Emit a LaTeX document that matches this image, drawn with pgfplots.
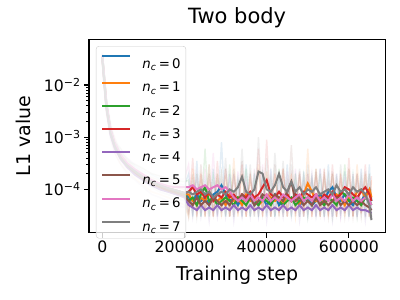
\documentclass[border=0pt]{standalone}
\usepackage{fontspec}
\setmainfont{DejaVu Sans}
\usepackage{pgfplots}
\usepackage{pgfplotstable}
\pgfplotsset{compat=1.18}
\definecolor{c0}{HTML}{1F77B4}
\definecolor{c1}{HTML}{FF7F0E}
\definecolor{c2}{HTML}{2CA02C}
\definecolor{c3}{HTML}{D62728}
\definecolor{c4}{HTML}{9467BD}
\definecolor{c5}{HTML}{8C564B}
\definecolor{c6}{HTML}{E377C2}
\definecolor{c7}{HTML}{7F7F7F}

\pgfplotstableread{
x s0 s1 s2 s3 s4 s5 s6 s7 r0 r1 r2 r3 r4 r5 r6 r7
0 3.5e-2 3.3e-2 3.6e-2 3.4e-2 3.2e-2 3.5e-2 3.7e-2 3.3e-2 4.0e-2 3.2e-2 3.8e-2 3.5e-2 3.0e-2 3.9e-2 4.2e-2 3.4e-2
5000 1.2e-2 1.1e-2 1.3e-2 1.2e-2 1.0e-2 1.2e-2 1.3e-2 1.1e-2 1.5e-2 9e-3 1.4e-2 1.3e-2 8e-3 1.1e-2 1.6e-2 1.0e-2
10000 4.0e-3 3.6e-3 4.3e-3 4.1e-3 3.5e-3 4.0e-3 4.4e-3 3.8e-3 5e-3 3e-3 4.5e-3 5e-3 2.8e-3 4.5e-3 5.5e-3 3.5e-3
20000 1.3e-3 1.2e-3 1.4e-3 1.3e-3 1.1e-3 1.3e-3 1.4e-3 1.2e-3 1.8e-3 1.0e-3 1.6e-3 1.5e-3 9e-4 1.4e-3 1.9e-3 1.1e-3
30000 7.0e-4 6.5e-4 7.4e-4 7.1e-4 6.2e-4 7.0e-4 7.6e-4 6.8e-4 9e-4 5e-4 8e-4 1.0e-3 5e-4 8e-4 9e-4 6e-4
45000 4.2e-4 3.9e-4 4.4e-4 4.3e-4 3.8e-4 4.1e-4 4.6e-4 4.0e-4 5e-4 3e-4 6e-4 4.5e-4 3e-4 5e-4 6e-4 3.5e-4
60000 3.0e-4 2.8e-4 3.1e-4 3.0e-4 2.7e-4 2.9e-4 3.2e-4 2.9e-4 4e-4 2.2e-4 3.5e-4 3.5e-4 2e-4 3.8e-4 4e-4 2.5e-4
80000 2.2e-4 2.0e-4 2.3e-4 2.2e-4 1.9e-4 2.1e-4 2.4e-4 2.2e-4 2.8e-4 1.6e-4 3e-4 2.4e-4 1.5e-4 2.6e-4 3e-4 1.8e-4
100000 1.7e-4 1.6e-4 1.8e-4 1.7e-4 1.5e-4 1.6e-4 1.9e-4 1.7e-4 2.2e-4 1.2e-4 2.5e-4 1.9e-4 1.1e-4 2e-4 2.4e-4 1.4e-4
120000 1.4e-4 1.3e-4 1.4e-4 1.4e-4 1.2e-4 1.3e-4 1.5e-4 1.4e-4 1.9e-4 9e-5 2e-4 1.6e-4 8e-5 1.7e-4 2e-4 1.1e-4
140000 1.2e-4 1.1e-4 1.2e-4 1.2e-4 1.0e-4 1.1e-4 1.3e-4 1.2e-4 1.6e-4 8e-5 1.8e-4 1.3e-4 7e-5 1.5e-4 1.8e-4 9e-5
160000 1.05e-4 1.0e-4 1.0e-4 1.05e-4 9.0e-5 9.5e-5 1.15e-4 1.05e-4 1.4e-4 7e-5 1.6e-4 1.2e-4 6e-5 1.3e-4 1.6e-4 8e-5
180000 9.5e-5 9.0e-5 9.0e-5 9.5e-5 8.0e-5 8.5e-5 1.1e-4 9.5e-5 1.3e-4 6e-5 1.5e-4 1.1e-4 5e-5 1.2e-4 1.5e-4 7e-5
200000 8.5e-5 8.0e-5 8.0e-5 8.5e-5 7.0e-5 7.5e-5 1.1e-4 8.5e-5 1.2e-4 5e-5 1.4e-4 1.0e-4 4.5e-5 1.1e-4 1.6e-4 6e-5
210000 7e-5 8e-5 6e-5 9e-5 5e-5 6e-5 11e-5 9e-5 2e-4 3e-5 1.5e-4 4e-5 1.2e-4 3e-5 3e-4 3.5e-5
220000 6e-5 6e-5 7e-5 11e-5 4.5e-5 5e-5 12e-5 8e-5 3e-5 2.5e-4 3.5e-5 4e-4 3e-5 1.5e-4 4e-5 2e-4
230000 8e-5 5e-5 5e-5 8e-5 4e-5 7e-5 10e-5 9e-5 3.5e-4 3.5e-5 2e-4 3e-5 1.5e-4 4e-5 2e-4 3e-5
240000 6e-5 7e-5 8e-5 9e-5 5e-5 5e-5 11e-5 10e-5 3e-5 1.8e-4 3e-5 2e-4 3e-5 3e-4 3.5e-5 1.5e-4
250000 7e-5 6e-5 11e-5 7e-5 4e-5 6e-5 12e-5 8e-5 1.5e-4 3e-5 6e-4 3.5e-5 1e-4 3e-5 2.5e-4 4e-5
260000 5e-5 8e-5 6e-5 9e-5 4.5e-5 5e-5 10e-5 9e-5 4e-5 3e-4 3e-5 1.5e-4 2.5e-5 2e-4 4e-5 3e-4
270000 8e-5 7e-5 7e-5 6e-5 4e-5 7e-5 11e-5 7e-5 2.5e-4 3e-5 1.8e-4 3e-5 1.3e-4 3.5e-5 5e-4 3e-5
280000 9e-5 6e-5 5e-5 8e-5 5e-5 6e-5 12e-5 8e-5 3e-5 2e-4 4e-5 3.5e-4 3e-5 1.6e-4 3e-5 2e-4
290000 12e-5 7e-5 6e-5 7e-5 4e-5 5e-5 10e-5 9e-5 8e-4 3.5e-5 2e-4 4e-5 1.2e-4 3e-5 2e-4 3.5e-5
300000 8e-5 5e-5 7e-5 9e-5 4.5e-5 6e-5 11e-5 8e-5 3e-5 1.5e-4 3e-5 2.5e-4 3e-5 2.5e-4 4e-5 4e-4
310000 6e-5 8e-5 6e-5 7e-5 4e-5 5e-5 9e-5 10e-5 2e-4 3e-5 3e-4 3e-5 1.4e-4 3e-5 1.8e-4 3e-5
320000 7e-5 6e-5 5e-5 8e-5 5e-5 7e-5 7e-5 9e-5 3.5e-5 4e-4 3e-5 2e-4 2.5e-5 1.8e-4 3e-5 2.5e-4
330000 5e-5 7e-5 7e-5 6e-5 4e-5 6e-5 6e-5 11e-5 1.6e-4 3e-5 1.5e-4 3.5e-5 1e-4 4e-5 2.2e-4 3.5e-5
340000 7e-5 5e-5 6e-5 8e-5 4.5e-5 8e-5 7e-5 17.5e-5 3e-5 2e-4 3.5e-5 3e-4 3e-5 3.5e-4 3.5e-5 6e-4
350000 6e-5 8e-5 5e-5 7e-5 4e-5 6e-5 6e-5 9e-5 3e-4 3e-5 2.5e-4 3e-5 1.3e-4 3e-5 1.6e-4 4e-5
360000 8e-5 6e-5 7e-5 9e-5 5e-5 7e-5 8e-5 8e-5 3e-5 1.7e-4 3e-5 1.8e-4 3e-5 2e-4 4e-5 3e-4
370000 5e-5 7e-5 6e-5 7e-5 4e-5 5e-5 6e-5 10e-5 2e-4 3.5e-5 1.8e-4 4e-5 1.1e-4 3e-5 2.5e-4 3e-5
380000 6e-5 5e-5 5e-5 8e-5 4.5e-5 6e-5 7e-5 22e-5 3.5e-5 3e-4 3e-5 6e-4 3e-5 2.5e-4 3e-5 1e-3
390000 7e-5 6e-5 7e-5 11e-5 4e-5 8e-5 6e-5 20e-5 1.8e-4 3e-5 2e-4 3e-5 1.5e-4 3.5e-5 3e-4 3.5e-5
400000 5e-5 8e-5 6e-5 15e-5 5e-5 7e-5 8e-5 10e-5 3e-5 2.2e-4 4e-5 9e-4 2.5e-5 1.8e-4 3.5e-5 4e-4
410000 6e-5 7e-5 5e-5 8e-5 4e-5 6e-5 6e-5 9e-5 2.5e-4 3e-5 1.6e-4 3e-5 1.2e-4 3e-5 2e-4 3e-5
420000 8e-5 6e-5 7e-5 7e-5 4.5e-5 8e-5 7e-5 12e-5 3e-5 1.8e-4 3e-5 2e-4 3e-5 3e-4 4e-5 5e-4
430000 5e-5 7e-5 6e-5 9e-5 4e-5 7e-5 6e-5 20e-5 2e-4 3.5e-5 2.5e-4 3.5e-5 1e-4 3e-5 1.8e-4 4e-5
440000 6e-5 5e-5 5e-5 7e-5 5e-5 6e-5 8e-5 11e-5 3.5e-5 2.5e-4 3e-5 2.5e-4 3e-5 2e-4 3e-5 3.5e-4
450000 7e-5 8e-5 6e-5 8e-5 4e-5 9e-5 7e-5 9e-5 3e-4 3e-5 1.5e-4 3e-5 1.3e-4 4e-5 2.2e-4 3e-5
460000 6e-5 6e-5 7e-5 6e-5 4.5e-5 14e-5 6e-5 14e-5 3e-5 2e-4 3.5e-5 1.8e-4 3e-5 7e-4 3.5e-5 3e-4
470000 8e-5 7e-5 5e-5 8e-5 4e-5 6e-5 7e-5 9e-5 1.7e-4 3e-5 2e-4 4e-5 1.1e-4 3e-5 2.5e-4 3.5e-5
480000 5e-5 5e-5 6e-5 7e-5 5e-5 7e-5 8e-5 11e-5 3e-5 1.6e-4 3e-5 2.2e-4 2.5e-5 2e-4 3e-5 2.5e-4
490000 6e-5 8e-5 7e-5 9e-5 4e-5 5e-5 6e-5 8e-5 2.2e-4 3.5e-5 1.8e-4 3e-5 1.2e-4 3e-5 1.7e-4 3e-5
500000 7e-5 13e-5 6e-5 8e-5 4.5e-5 6e-5 7e-5 10e-5 3.5e-5 6e-4 3e-5 2e-4 3e-5 1.8e-4 4e-5 3e-4
510000 5e-5 9e-5 5e-5 7e-5 4e-5 5e-5 6e-5 9e-5 1.8e-4 3e-5 1.6e-4 3e-5 1.4e-4 3.5e-5 2e-4 3.5e-5
520000 6e-5 6e-5 7e-5 8e-5 5e-5 7e-5 8e-5 11e-5 3e-5 2.5e-4 3.5e-5 1.8e-4 3e-5 2.2e-4 3e-5 2.5e-4
530000 8e-5 7e-5 6e-5 6e-5 4e-5 5e-5 6e-5 8e-5 2.5e-4 3e-5 2e-4 3.5e-5 1e-4 3e-5 2.5e-4 3e-5
540000 6e-5 5e-5 5e-5 8e-5 4.5e-5 6e-5 7e-5 9e-5 3e-5 1.8e-4 3e-5 2.5e-4 3e-5 1.6e-4 3.5e-5 2e-4
550000 9e-5 7e-5 7e-5 7e-5 4e-5 5e-5 6e-5 10e-5 3e-4 3.5e-5 1.7e-4 3e-5 1.2e-4 3e-5 1.8e-4 4e-5
560000 11e-5 6e-5 6e-5 9e-5 5e-5 6e-5 8e-5 8e-5 3e-5 2e-4 3e-5 3e-4 2.5e-5 2e-4 3e-5 2.2e-4
570000 7e-5 8e-5 5e-5 7e-5 4e-5 7e-5 6e-5 12e-5 2e-4 3e-5 1.5e-4 3e-5 1.1e-4 3.5e-5 2e-4 3e-5
580000 6e-5 7e-5 9e-5 8e-5 4.5e-5 5e-5 7e-5 9e-5 3.5e-5 1.8e-4 4e-5 2e-4 3e-5 1.5e-4 3e-5 3e-4
590000 8e-5 5e-5 8e-5 11e-5 4e-5 6e-5 6e-5 10e-5 2.2e-4 3e-5 3e-4 3.5e-5 1.3e-4 3e-5 1.6e-4 3.5e-5
600000 6e-5 7e-5 6e-5 10e-5 5e-5 5e-5 8e-5 8e-5 3e-5 2.5e-4 3e-5 4e-4 3e-5 1.8e-4 3.5e-5 2.5e-4
610000 5e-5 6e-5 7e-5 8e-5 4e-5 6e-5 6e-5 11e-5 1.8e-4 3e-5 1.8e-4 3e-5 1e-4 3e-5 2e-4 3e-5
620000 7e-5 9e-5 6e-5 7e-5 4.5e-5 5e-5 7e-5 9e-5 3e-5 3e-4 3e-5 2e-4 3e-5 1.6e-4 3e-5 2e-4
630000 6e-5 10e-5 5e-5 9e-5 4e-5 6e-5 6e-5 10e-5 2.5e-4 3.5e-5 1.6e-4 3.5e-5 1.2e-4 3e-5 1.8e-4 3.5e-5
640000 8e-5 7e-5 7e-5 11e-5 4e-5 5e-5 7e-5 8e-5 3e-5 2e-4 3.5e-5 3e-4 2.5e-5 1.5e-4 3e-5 2.2e-4
650000 10e-5 10e-5 6e-5 8e-5 3.7e-5 4.5e-5 6e-5 5e-5 3e-4 3e-5 2e-4 3e-5 1e-4 3e-5 2e-4 3e-5
655000 6e-5 7e-5 5e-5 6e-5 3.5e-5 4e-5 5e-5 2.6e-5 4e-5 1.5e-4 3e-5 1.8e-4 3e-5 1e-4 3e-5 2.5e-5
}\data

\begin{document}
\begin{tikzpicture}
\useasboundingbox (-89bp,-67.3bp) rectangle (311bp,232.7bp);
\begin{axis}[
  at={(0,0)}, anchor=south west,
  scale only axis, width=296.3bp, height=193.4bp,
  ymode=log,
  xmin=-32400, xmax=688600, ymin=1.48e-5, ymax=7.5e-2,
  xtick={0,200000,400000,600000},
  xticklabels={0,200000,400000,600000},
  scaled x ticks=false,
  ytick={1e-4,1e-3,1e-2},
  yticklabels={10\textsuperscript{−4},10\textsuperscript{−3},10\textsuperscript{−2}},
  tick align=outside, tick pos=left,
  major tick length=4.9bp, minor tick length=2.8bp,
  every major tick/.append style={line width=1.1bp, black},
  every minor tick/.append style={line width=0.83bp, black},
  axis line style={line width=1.1bp},
  ticklabel style={font=\fontsize{15.7bp}{18bp}\selectfont},
  title={Two body},
  title style={font=\fontsize{21bp}{24bp}\selectfont, at={(axis description cs:0.5,1.0507)}, anchor=base},
  xlabel={Training step},
  xlabel style={font=\fontsize{19bp}{22bp}\selectfont, at={(axis description cs:0.5,-0.2497)}, anchor=base},
  ylabel={L1 value},
  ylabel style={font=\fontsize{19bp}{22bp}\selectfont, at={(axis description cs:-0.199,0.5)}, anchor=base},
  legend style={at={(axis description cs:0.0236,0.965)}, anchor=north west,
    draw=black!20, fill=white, fill opacity=0.8, draw opacity=1, text opacity=1,
    rounded corners=2.8bp, font=\fontsize{13.3bp}{15bp}\selectfont,
    inner xsep=5.3bp, inner ysep=5.5bp, row sep=10.6bp, column sep=0bp,
    nodes={inner sep=0pt, text height=11bp, text depth=1.6bp}},
  legend image code/.code={\draw[#1, line width=2bp] (0bp,4.7bp) -- (28bp,4.7bp); \path (39bp,4.7bp);},
  legend cell align=left,
]
\addplot[c0, opacity=0.12, line width=1.4bp, forget plot] table[x=x, y=r0] {\data};
\addplot[c1, opacity=0.12, line width=1.4bp, forget plot] table[x=x, y=r1] {\data};
\addplot[c2, opacity=0.12, line width=1.4bp, forget plot] table[x=x, y=r2] {\data};
\addplot[c3, opacity=0.12, line width=1.4bp, forget plot] table[x=x, y=r3] {\data};
\addplot[c4, opacity=0.12, line width=1.4bp, forget plot] table[x=x, y=r4] {\data};
\addplot[c5, opacity=0.12, line width=1.4bp, forget plot] table[x=x, y=r5] {\data};
\addplot[c6, opacity=0.12, line width=1.4bp, forget plot] table[x=x, y=r6] {\data};
\addplot[c7, opacity=0.12, line width=1.4bp, forget plot] table[x=x, y=r7] {\data};
\addplot[c0, line width=2bp] table[x=x, y=s0] {\data};
\addlegendentry[text height=17bp]{\textit{n}\textsubscript{\textit{c}}\,=\,0}
\addplot[c1, line width=2bp] table[x=x, y=s1] {\data};
\addlegendentry{\textit{n}\textsubscript{\textit{c}}\,=\,1}
\addplot[c2, line width=2bp] table[x=x, y=s2] {\data};
\addlegendentry{\textit{n}\textsubscript{\textit{c}}\,=\,2}
\addplot[c3, line width=2bp] table[x=x, y=s3] {\data};
\addlegendentry{\textit{n}\textsubscript{\textit{c}}\,=\,3}
\addplot[c4, line width=2bp] table[x=x, y=s4] {\data};
\addlegendentry{\textit{n}\textsubscript{\textit{c}}\,=\,4}
\addplot[c5, line width=2bp] table[x=x, y=s5] {\data};
\addlegendentry{\textit{n}\textsubscript{\textit{c}}\,=\,5}
\addplot[c6, line width=2bp] table[x=x, y=s6] {\data};
\addlegendentry{\textit{n}\textsubscript{\textit{c}}\,=\,6}
\addplot[c7, line width=2bp] table[x=x, y=s7] {\data};
\addlegendentry{\textit{n}\textsubscript{\textit{c}}\,=\,7}
\end{axis}
\end{tikzpicture}
\end{document}
